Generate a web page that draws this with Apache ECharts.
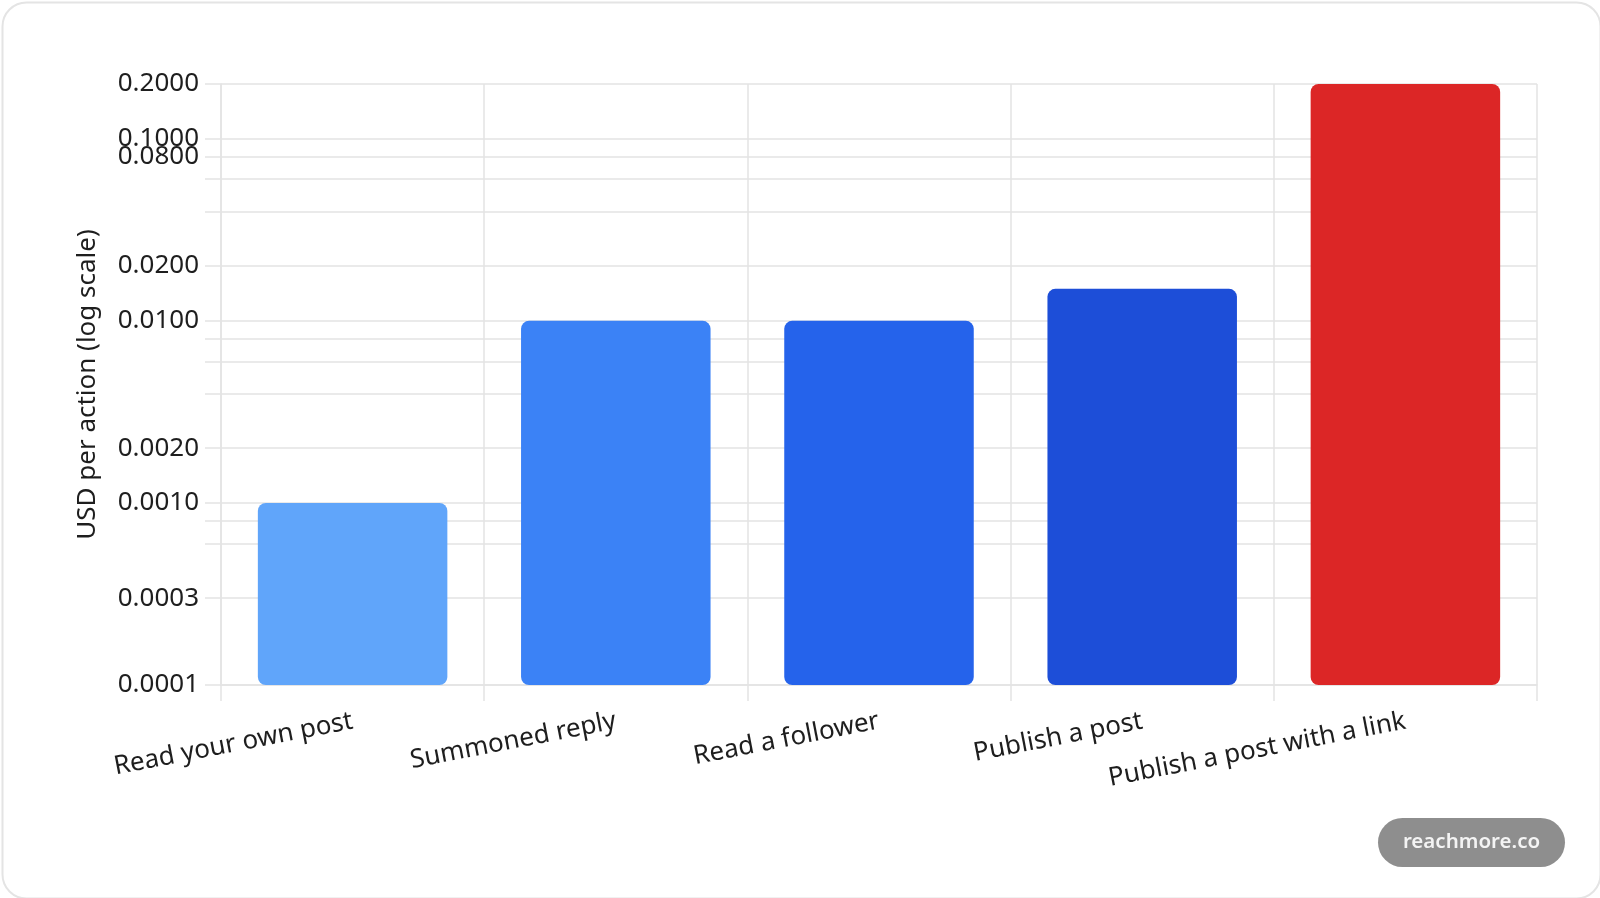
<!DOCTYPE html>
<html>
<head>
<meta charset="utf-8">
<title>USD per action</title>
<script src="https://cdn.jsdelivr.net/npm/echarts@6/dist/echarts.min.js"></script>
<style>
  html, body { margin: 0; padding: 0; background: #fff; }
  #chart { width: 1600px; height: 898px; }
</style>
</head>
<body>
<div id="chart"></div>
<script>
// data
var categories = ['Read your own post', 'Summoned reply', 'Read a follower', 'Publish a post', 'Publish a post with a link']
var costs = [0.001, 0.01, 0.01, 0.015, 0.2]
var barColors = ['#60a5fa', '#3b82f6', '#2563eb', '#1d4ed8', '#dc2626']
// log ticks: gridlines everywhere, labels only on some
var gridTicks = [0.0001, 0.0003, 0.0006, 0.0008, 0.001, 0.002, 0.004, 0.006, 0.008, 0.01, 0.02, 0.04, 0.06, 0.08, 0.1, 0.2]
var labelTicks = [0.0001, 0.0003, 0.001, 0.002, 0.01, 0.02, 0.08, 0.1, 0.2]

var FONT = '"Noto Sans", "Open Sans", sans-serif'
var GRID_COLOR = '#e3e3e3'

var myChart = echarts.init(document.getElementById('chart'))

var option = {
  backgroundColor: '#fff',
  animation: false,
  textStyle: { fontFamily: FONT },
  grid: { left: 221, right: 63, top: 84, bottom: 213 },
  xAxis: {
    type: 'category',
    data: categories,
    boundaryGap: true,
    axisLine: { show: true, lineStyle: { color: GRID_COLOR, width: 1.5 } },
    axisTick: { show: true, length: 16, lineStyle: { color: GRID_COLOR, width: 1.5 } },
    splitLine: { show: true, lineStyle: { color: GRID_COLOR, width: 1.5 } },
    axisLabel: {
      rotate: 11,
      margin: 36,
      interval: 0,
      color: '#1e1e1e',
      fontSize: 26,
      fontFamily: FONT
    }
  },
  yAxis: {
    type: 'log',
    logBase: 10,
    min: 0.0001,
    max: 0.2,
    startValue: 0.0001,
    name: 'USD per action (log scale)',
    nameLocation: 'middle',
    nameGap: 120,
    nameTextStyle: { color: '#1e1e1e', fontSize: 26, fontFamily: FONT },
    axisLine: { show: true, lineStyle: { color: GRID_COLOR, width: 1.5 } },
    axisTick: { show: true, inside: false, length: 16, customValues: gridTicks, lineStyle: { color: GRID_COLOR, width: 1.5 } },
    splitLine: { show: true, lineStyle: { color: GRID_COLOR, width: 1.5 } },
    axisLabel: {
      customValues: labelTicks,
      margin: 22,
      color: '#1e1e1e',
      fontSize: 26,
      fontFamily: FONT,
      formatter: function (v) { return Number(v).toFixed(4) }
    }
  },
  series: [{
    type: 'bar',
    barWidth: '72%',
    data: costs.map(function (v, i) {
      return { value: v, itemStyle: { color: barColors[i] } }
    }),
    itemStyle: { borderRadius: 8 }
  }],
  graphic: [
    {
      type: 'rect',
      left: 0, top: 0, z: -1,
      shape: { x: 1, y: 1, width: 1598, height: 896, r: 24 },
      style: { fill: 'none', stroke: '#e4e4e4', lineWidth: 2 }
    },
    {
      type: 'group',
      right: 35, bottom: 31,
      children: [
        { type: 'rect', shape: { x: 0, y: 0, width: 187, height: 49, r: 24.5 }, style: { fill: '#8e8e8e' } },
        { type: 'text', x: 93.5, y: 24.5, style: { text: 'reachmore.co', fill: '#f4f4f4', font: '600 20.5px ' + FONT, textAlign: 'center', textVerticalAlign: 'middle' } }
      ]
    }
  ]
}

myChart.setOption(option)
window.onresize = function () { myChart.resize() }
</script>
</body>
</html>
